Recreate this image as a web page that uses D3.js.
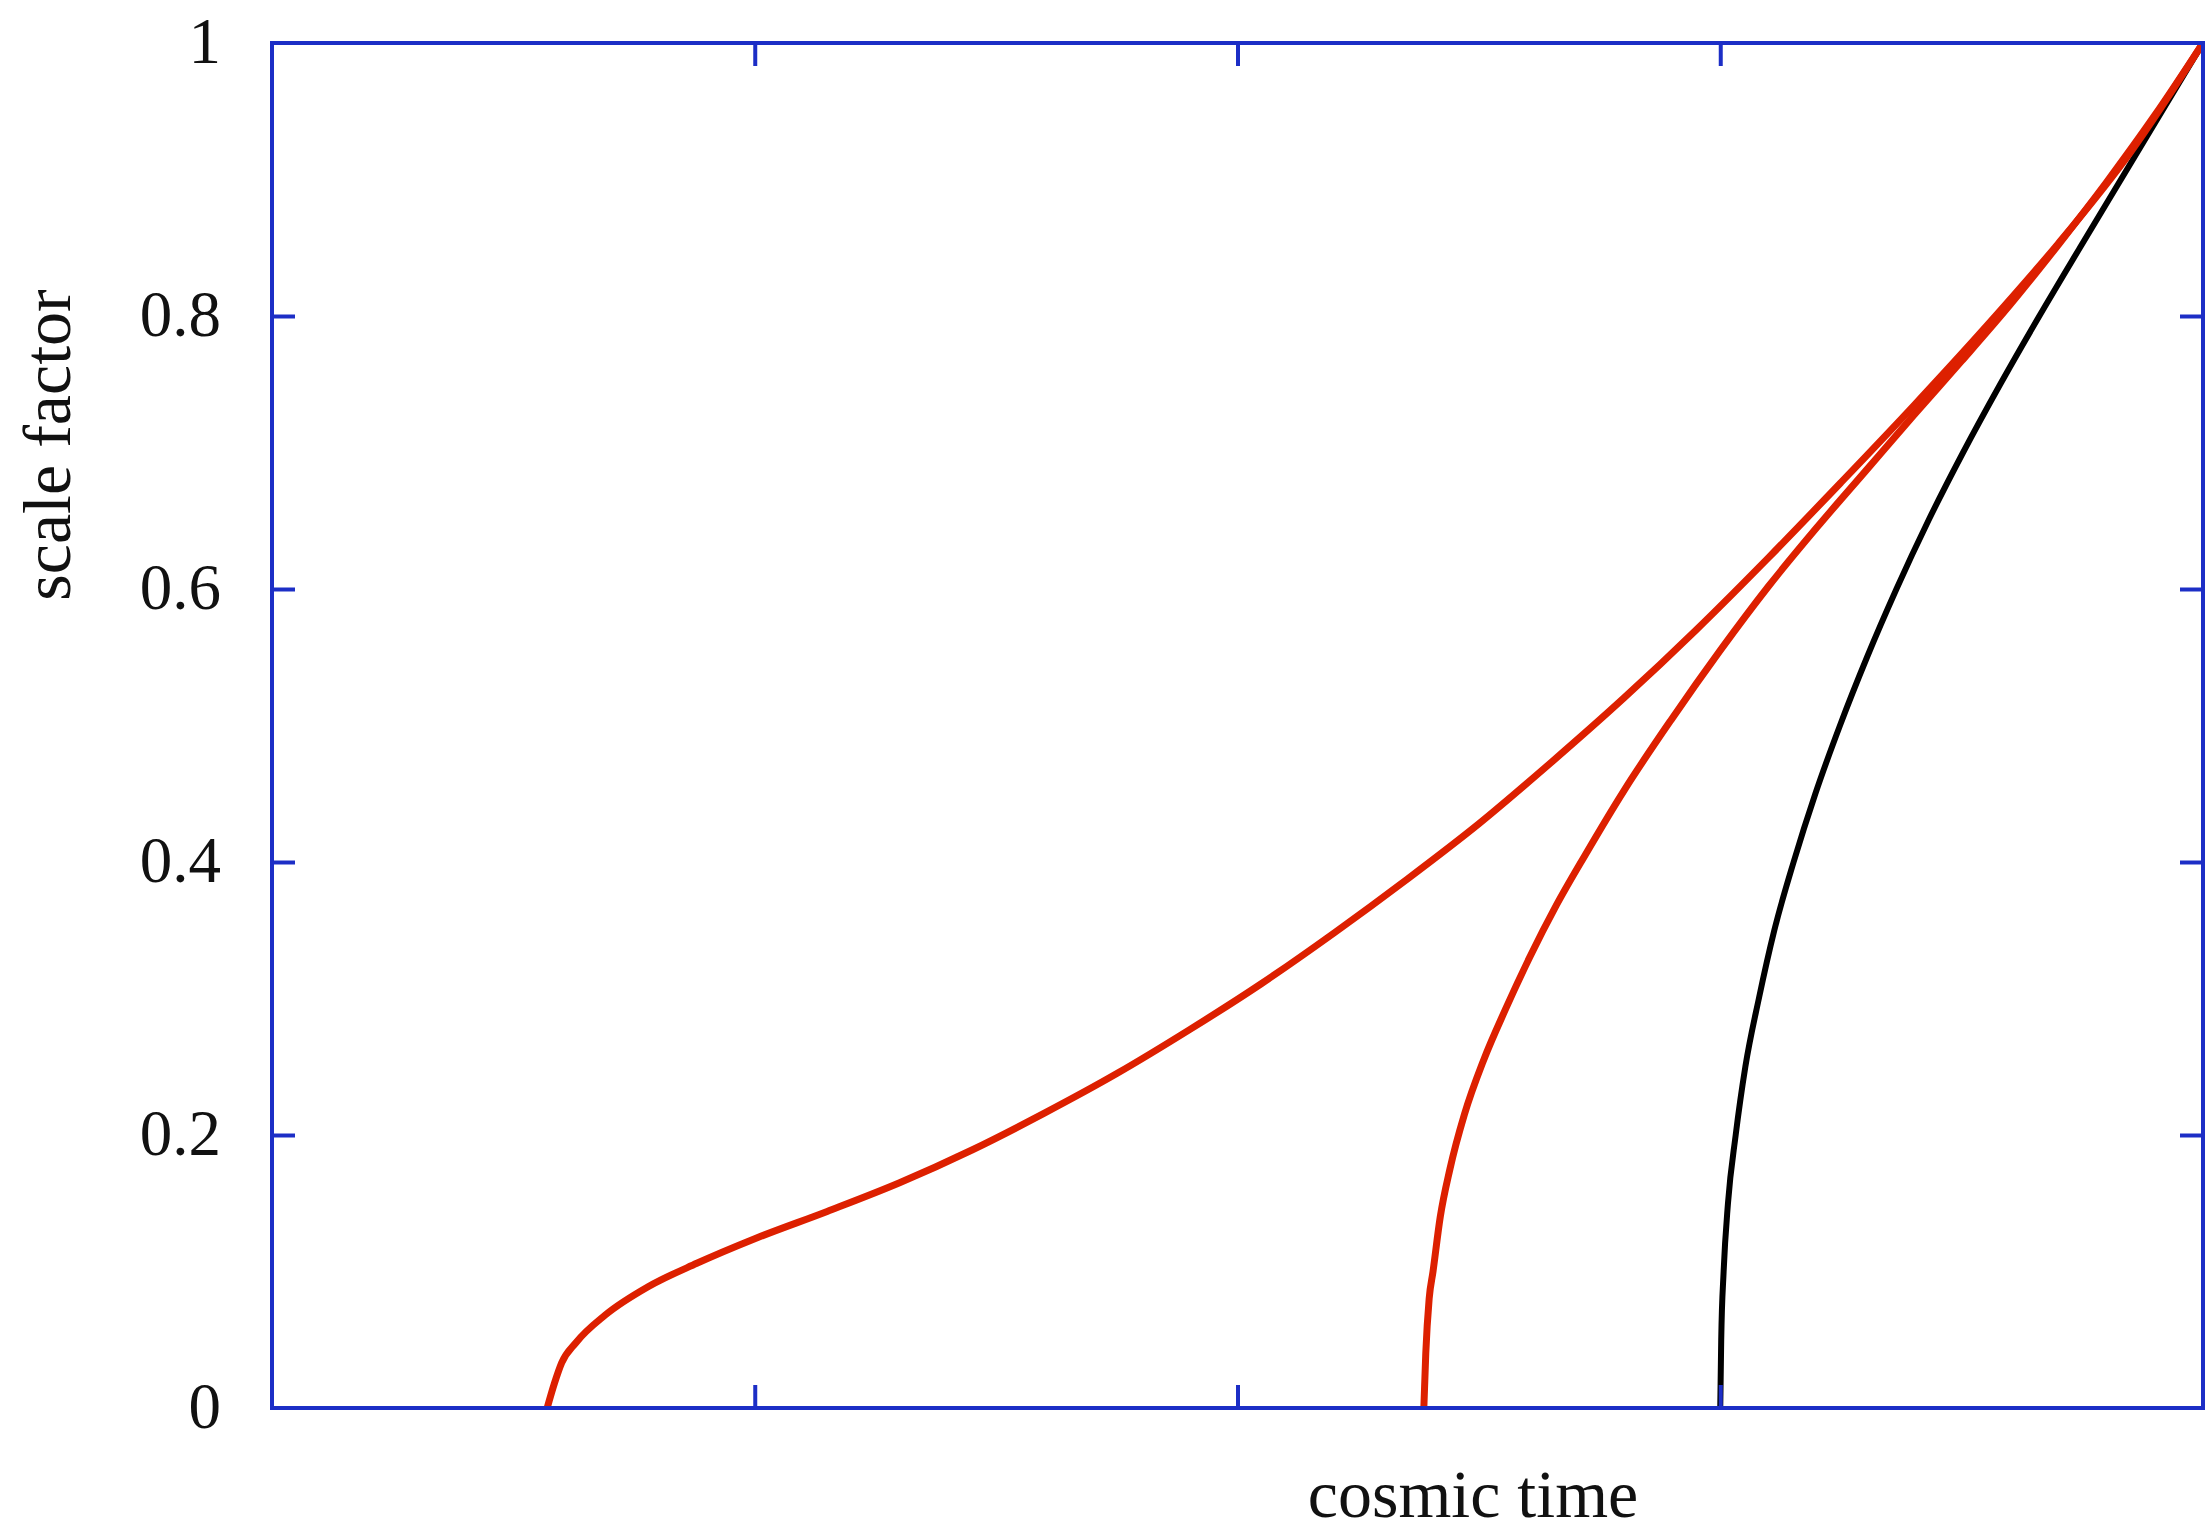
<!DOCTYPE html>
<html>
<head>
<meta charset="utf-8">
<script src="https://cdn.jsdelivr.net/npm/d3@7"></script>
<style>
  html, body { margin: 0; padding: 0; background: #fff; }
  svg { display: block; }
  text { font-family: "Liberation Serif", "DejaVu Serif", serif; fill: #111; }
</style>
</head>
<body>
<svg id="chart" width="2205" height="1533"></svg>
<script>
// ---- data ----
const yTickValues = [0, 0.2, 0.4, 0.6, 0.8, 1];
const yTickLabels = ["0", "0.2", "0.4", "0.6", "0.8", "1"];
const xTickValues = [1, 2, 3];

// black curve (cosmic time, scale factor)
const blackT = [3.000, 3.002, 3.007, 3.016, 3.032, 3.052, 3.080, 3.112, 3.152, 3.197, 3.248, 3.304, 3.365, 3.431, 3.503, 3.580, 3.661, 3.745, 3.830, 3.915, 4.000];
const blackA = [0, 0.05, 0.10, 0.15, 0.20, 0.25, 0.30, 0.35, 0.40, 0.45, 0.50, 0.55, 0.60, 0.65, 0.70, 0.75, 0.80, 0.85, 0.90, 0.95, 1.0];

// middle red curve
const redMidT = [2.386, 2.390, 2.397, 2.405, 2.420, 2.440, 2.470, 2.510, 2.555, 2.605, 2.660, 2.720, 2.800, 2.900, 3.000, 3.100, 3.200, 3.300, 3.400, 3.500, 3.600, 3.700, 3.800, 3.900, 4.000];
const redMidA = [0, 0.04, 0.08, 0.10, 0.14, 0.175, 0.215, 0.255, 0.292, 0.330, 0.368, 0.405, 0.452, 0.505, 0.555, 0.602, 0.645, 0.686, 0.727, 0.767, 0.808, 0.852, 0.898, 0.947, 1.0];

// left (outer) red curve
const redOutT = [0.570, 0.585, 0.600, 0.630, 0.690, 0.780, 0.880, 1.000, 1.150, 1.300, 1.450, 1.600, 1.750, 1.900, 2.050, 2.200, 2.350, 2.500, 2.650, 2.800, 2.950, 3.100, 3.250, 3.400, 3.550, 3.700, 3.850, 4.000];
const redOutA = [0, 0.018, 0.033, 0.048, 0.068, 0.089, 0.106, 0.124, 0.144, 0.165, 0.189, 0.216, 0.245, 0.277, 0.311, 0.348, 0.387, 0.428, 0.473, 0.520, 0.570, 0.623, 0.678, 0.734, 0.792, 0.853, 0.920, 1.0];

const xLabel = "cosmic time";
const yLabel = "scale factor";

(function () {
  const svg = d3.select("#chart");
  const mLeft = 272, mRight = 2203, mTop = 43, mBottom = 1408;
  const axisColor = "#1c2ec6";
  const redColor = "#dd2000";

  const x = d3.scaleLinear().domain([0, 4]).range([mLeft, mRight]);
  const y = d3.scaleLinear().domain([0, 1]).range([mBottom, mTop]);

  const line = d3.line()
    .x(d => x(d[0]))
    .y(d => y(d[1]))
    .curve(d3.curveMonotoneX);

  const zip = (a, b) => a.map((v, i) => [v, b[i]]);

  const curves = [
    { pts: zip(blackT, blackA), color: "#000", w: 6 },
    { pts: zip(redMidT, redMidA), color: redColor, w: 7 },
    { pts: zip(redOutT, redOutA), color: redColor, w: 7 }
  ];

  svg.append("g").selectAll("path.curve")
    .data(curves)
    .join("path")
    .attr("class", "curve")
    .attr("d", d => line(d.pts))
    .attr("fill", "none")
    .attr("stroke", d => d.color)
    .attr("stroke-width", d => d.w)
    .attr("stroke-linejoin", "round")
    .attr("stroke-linecap", "butt");

  const tickLen = 23;
  function styleAxis(g) {
    g.select(".domain").remove();
    g.selectAll(".tick line").attr("stroke", axisColor).attr("stroke-width", 4);
  }

  svg.append("g")
    .attr("transform", `translate(0,${mBottom})`)
    .call(d3.axisBottom(x).tickValues(xTickValues).tickSize(-tickLen).tickFormat(""))
    .call(styleAxis);

  svg.append("g")
    .attr("transform", `translate(0,${mTop})`)
    .call(d3.axisTop(x).tickValues(xTickValues).tickSize(-tickLen).tickFormat(""))
    .call(styleAxis);

  svg.append("g")
    .attr("transform", `translate(${mRight},0)`)
    .call(d3.axisRight(y).tickValues(yTickValues.slice(1, -1)).tickSize(-tickLen).tickFormat(""))
    .call(styleAxis);

  svg.append("g")
    .attr("transform", `translate(${mLeft},0)`)
    .call(d3.axisLeft(y).tickValues(yTickValues.slice(1, -1)).tickSize(-tickLen).tickFormat(""))
    .call(styleAxis);

  svg.append("g").selectAll("text")
    .data(yTickValues)
    .join("text")
    .attr("x", mLeft - 51)
    .attr("y", d => y(d))
    .attr("dy", "0.3em")
    .attr("text-anchor", "end")
    .attr("font-size", 65)
    .text((d, i) => yTickLabels[i]);

  svg.append("rect")
    .attr("x", mLeft).attr("y", mTop)
    .attr("width", mRight - mLeft).attr("height", mBottom - mTop)
    .attr("fill", "none")
    .attr("stroke", axisColor)
    .attr("stroke-width", 4);

  svg.append("text")
    .attr("x", 1473)
    .attr("y", 1517)
    .attr("text-anchor", "middle")
    .attr("font-size", 68)
    .text(xLabel);

  svg.append("text")
    .attr("transform", `translate(70,445) rotate(-90)`)
    .attr("text-anchor", "middle")
    .attr("font-size", 68)
    .text(yLabel);
})();
</script>
</body>
</html>
